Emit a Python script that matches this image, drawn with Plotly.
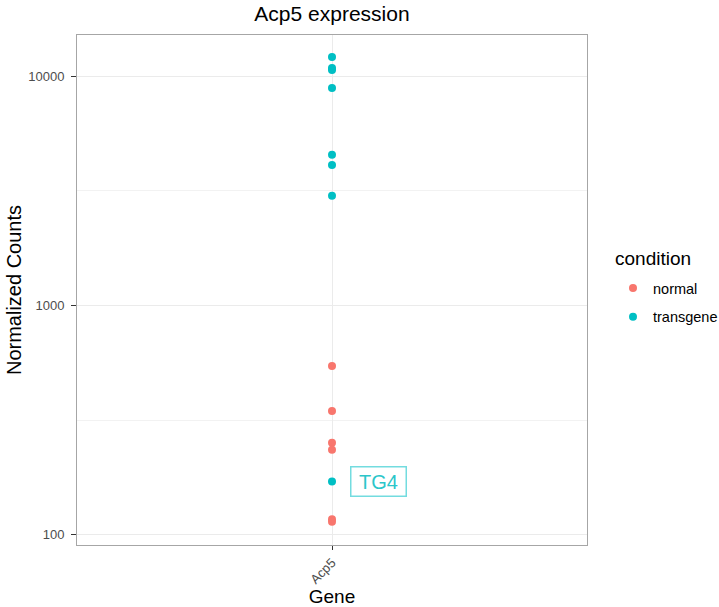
import plotly.graph_objects as go
import math

gene = "Acp5"
normal_counts = [545, 347, 252, 235, 117, 114]
transgene_counts = [12100, 10840, 10620, 8870, 4540, 4095, 3010, 171]
label_text = "TG4"
label_value = 171
legend_title = "condition"

red = "#F8766D"
cyan = "#00BFC4"
font = "Liberation Sans, Arial, sans-serif"

fig = go.Figure()
fig.add_trace(go.Scatter(x=[gene] * len(normal_counts), y=normal_counts, mode="markers",
                         name="normal", legendgroup="normal", marker=dict(color=red, size=8)))
fig.add_trace(go.Scatter(x=[gene] * len(transgene_counts), y=transgene_counts, mode="markers",
                         name="transgene", legendgroup="transgene", marker=dict(color=cyan, size=8)))

fig.add_annotation(x=gene, y=math.log10(label_value), text=label_text, showarrow=False,
                   xshift=46, font=dict(family=font, size=20, color="#2cc6ca"),
                   width=52, height=26, align="center", valign="middle",
                   bordercolor="rgba(0,191,196,0.55)", borderwidth=1.5, borderpad=1, bgcolor="white")

L, R, T, B = 77, 587, 35, 545
# legend title drawn as text so the entries can sit a little lower
fig.add_annotation(xref="paper", yref="paper", x=(613 - L) / (R - L), y=(B - 258) / (B - T),
                   xanchor="left", yanchor="middle", text=legend_title, showarrow=False,
                   font=dict(family=font, size=19, color="black"))

fig.update_layout(
    width=719, height=607,
    margin=dict(l=L, r=719 - R, t=T, b=607 - B, autoexpand=False),
    paper_bgcolor="white", plot_bgcolor="white",
    font=dict(family=font, color="#000000"),
    title=dict(text="Acp5 expression", x=(L + R) / 2 / 719, xanchor="center",
               y=1 - 14 / 607, yanchor="middle", font=dict(size=21, color="black")),
    showlegend=True,
    legend=dict(font=dict(size=14.5),
                x=(613 - L) / (R - L), xanchor="left", y=(B - 272) / (B - T), yanchor="top",
                tracegroupgap=7),
)
fig.update_xaxes(type="category", range=[-0.6, 0.6], showgrid=True, gridcolor="#ebebeb",
                 gridwidth=1, showline=True, linecolor="#a6a6a6", mirror=True, linewidth=1,
                 ticks="outside", ticklen=4, tickcolor="#333333", tickangle=-45,
                 tickfont=dict(size=13, color="#4d4d4d"), automargin=False,
                 title=dict(text="Gene", font=dict(size=19), standoff=4), zeroline=False)
fig.update_yaxes(type="log", range=[1.956, 4.179], showgrid=True, gridcolor="#ebebeb",
                 gridwidth=1, showline=True, linecolor="#a6a6a6", mirror=True, linewidth=1,
                 tickvals=[100, 1000, 10000], ticktext=["100", "1000", "10000"],
                 ticks="outside", ticklen=5, tickcolor="#333333", ticklabelstandoff=4,
                 tickfont=dict(size=13, color="#4d4d4d"), automargin=False,
                 minor=dict(tickvals=[316.23, 3162.3], showgrid=True, gridcolor="#f2f2f2", ticks=""),
                 title=dict(text="Normalized Counts", font=dict(size=20), standoff=1), zeroline=False)

fig.write_html("out.html", config={"displayModeBar": False},
               post_script="document.body.style.margin='0';")
